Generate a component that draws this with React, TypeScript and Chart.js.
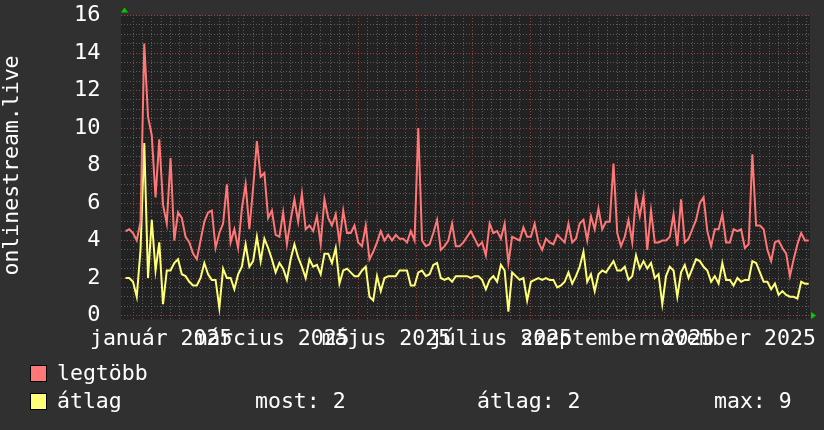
import React, { useEffect, useRef } from 'react';
import { Chart, registerables } from 'chart.js';

Chart.register(...registerables);

// ---- data (x = days since 1 Jan 2025) ----
const START_DAY = -4;
const DAY_STEP = 2;
const X_MIN = -4.8;
const X_MAX = 360.7;

const MAX_VALUES = [
  4.5, 4.6, 4.4, 4.0, 5.0, 14.5, 10.6, 9.6, 6.3, 9.4,
  5.9, 4.9, 8.4, 4.0, 5.5, 5.2, 4.2, 3.9, 3.3, 3.0,
  4.0, 5.0, 5.5, 5.6, 3.6, 4.4, 4.9, 7.0, 3.9, 4.6,
  3.6, 5.7, 7.0, 4.6, 6.8, 9.3, 7.4, 7.6, 5.2, 5.6,
  4.3, 4.2, 5.5, 3.8, 5.1, 6.2, 5.0, 6.5, 4.6, 4.8,
  4.5, 5.3, 3.8, 6.2, 5.2, 4.8, 5.4, 3.9, 5.6, 4.4,
  4.4, 4.8, 3.9, 3.7, 4.8, 3.0, 3.4, 3.9, 4.5, 4.0,
  4.3, 4.0, 4.3, 4.1, 4.1, 3.9, 4.5, 4.0, 10.0, 4.0,
  3.7, 3.8, 4.4, 5.1, 3.5, 3.7, 4.0, 4.9, 3.7, 3.7,
  3.9, 4.2, 4.5, 4.1, 3.7, 3.9, 3.2, 4.9, 4.4, 4.5,
  4.1, 4.9, 2.8, 4.2, 4.1, 4.0, 4.7, 4.2, 4.2, 4.9,
  3.9, 3.5, 4.1, 3.9, 3.8, 4.3, 4.1, 3.9, 4.9, 3.9,
  4.1, 4.9, 5.1, 4.0, 5.3, 4.6, 5.7, 4.6, 5.0, 5.0,
  8.1, 4.4, 3.7, 4.2, 5.1, 3.9, 6.4, 5.3, 6.4, 3.5,
  5.6, 3.9, 3.9, 4.0, 4.0, 4.2, 5.4, 3.7, 6.2, 3.9,
  4.1, 4.6, 5.1, 6.0, 6.3, 4.5, 3.7, 4.6, 4.6, 5.4,
  3.9, 3.9, 4.6, 4.5, 4.6, 3.6, 3.8, 8.6, 4.8, 4.8,
  4.6, 3.5, 2.9, 3.9, 4.0, 3.6, 3.3, 2.1, 3.0, 3.8,
  4.4, 4.0, 4.0,
];

const AVG_VALUES = [
  2.0, 2.0, 1.8, 1.0, 3.5, 9.2, 2.0, 5.1, 2.4, 3.9,
  0.6, 2.4, 2.4, 2.8, 3.0, 2.2, 2.1, 1.8, 1.6, 1.6,
  2.0, 2.8, 2.2, 1.9, 1.9, 0.4, 2.5, 2.0, 2.0, 1.4,
  2.2, 2.6, 3.8, 2.6, 2.9, 4.2, 2.9, 4.1, 3.6, 3.0,
  2.3, 2.8, 2.5, 1.9, 3.0, 3.8, 3.1, 2.6, 2.0, 3.0,
  2.6, 2.7, 2.2, 3.3, 3.3, 2.8, 3.6, 1.7, 2.4, 2.5,
  2.3, 2.1, 2.1, 2.4, 2.6, 1.0, 0.8, 2.1, 1.3, 2.0,
  2.1, 2.1, 2.1, 2.4, 2.4, 2.4, 1.6, 1.6, 2.3, 2.4,
  2.1, 2.2, 2.7, 2.8, 2.0, 1.9, 2.0, 1.8, 2.1, 2.1,
  2.1, 2.1, 2.0, 2.1, 2.1, 1.9, 1.4, 1.9, 2.1, 1.8,
  2.7, 2.4, 0.2, 2.3, 2.1, 1.9, 2.0, 0.8, 1.8, 1.9,
  2.0, 1.9, 2.0, 1.9, 1.9, 1.5, 1.6, 1.8, 2.3, 1.7,
  2.1, 2.6, 3.4, 1.8, 2.2, 1.3, 2.2, 2.4, 2.3, 2.6,
  2.9, 2.4, 2.4, 2.6, 1.9, 2.1, 3.2, 2.5, 2.9, 2.5,
  2.8, 2.0, 2.2, 0.6, 2.1, 2.6, 2.4, 1.0, 2.3, 2.7,
  2.0, 2.5, 3.0, 2.9, 2.6, 2.4, 1.8, 2.1, 1.7, 2.8,
  1.9, 1.9, 1.6, 2.0, 1.8, 1.9, 1.9, 2.9, 2.8, 2.3,
  1.8, 1.8, 1.4, 1.7, 1.1, 1.3, 1.1, 1.0, 1.0, 0.9,
  1.8, 1.7, 1.7,
];

const SERIES_NAMES = ['legtöbb', 'átlag'];
const STATS_TEXT = ['most: 2', 'átlag: 2', 'max: 9'];
const Y_AXIS_TITLE = 'onlinestream.live';

// month start days in 2025 (days since 1 Jan)
const MONTH_STARTS = [0, 31, 59, 90, 120, 151, 181, 212, 243, 273, 304, 334];
const MINOR_DAY_OFFSETS = [5, 10, 15, 20, 25];
const X_LABEL_MONTH_INDEX = [0, 2, 4, 6, 8, 10];
const X_LABELS = ['január 2025', 'március 2025', 'május 2025', 'július 2025', 'szeptember 2025', 'november 2025'];
const X_LABEL_OFFSET_DAYS = 15;

const Y_MIN = 0;
const Y_MAX = 16;
const Y_LABEL_STEP = 2;
const Y_MINOR_STEP = 0.5;

// ---- styles ----
const FONT = 'DejaVu Sans Mono';
const FONT_SIZE = 21.5;
const RED = '#ff7777';
const YELLOW = '#ffff77';
const OUTER_BG = '#303030';
const PLOT_BG = '#222222';
const MINOR_GRID = '#5c5c5c';
const MAJOR_GRID = '#9a3e3e';
const TEXT = '#ffffff';
const DOT_STEP = 3;

const xLabelValues = X_LABEL_MONTH_INDEX.map((m) => MONTH_STARTS[m] + X_LABEL_OFFSET_DAYS);
const yLabelValues: number[] = [];
for (let v = Y_MIN; v <= Y_MAX; v += Y_LABEL_STEP) yLabelValues.push(v);

const toPoints = (vals: number[]) => vals.map((v, i) => ({ x: START_DAY + i * DAY_STEP, y: v }));

const rrdPlugin = {
  id: 'rrdDecor',
  beforeDraw(chart: any) {
    const { ctx, chartArea } = chart;
    ctx.save();
    ctx.fillStyle = OUTER_BG;
    ctx.fillRect(0, 0, chart.width, chart.height);
    ctx.fillStyle = PLOT_BG;
    ctx.fillRect(chartArea.left - 3, chartArea.top, chartArea.right - chartArea.left + 3, chartArea.bottom - chartArea.top + 4);
    ctx.restore();
  },
  beforeDatasetsDraw(chart: any) {
    const { ctx, chartArea, scales } = chart;
    const xs = scales.x;
    const ys = scales.y;
    ctx.save();
    const left = Math.floor(chartArea.left) - 3;
    const right = Math.floor(chartArea.right);
    const top = Math.floor(chartArea.top);
    const bottom = Math.floor(chartArea.bottom) + 3;
    const hLine = (v: number, color: string) => {
      const y = Math.floor(ys.getPixelForValue(v));
      ctx.fillStyle = color;
      for (let x = left; x <= right; x += DOT_STEP) ctx.fillRect(x, y, 1, 1);
    };
    const vLine = (d: number, color: string) => {
      if (d < X_MIN || d > X_MAX) return;
      const x = Math.floor(xs.getPixelForValue(d));
      ctx.fillStyle = color;
      for (let y = top; y <= bottom; y += DOT_STEP) ctx.fillRect(x, y, 1, 1);
    };
    for (let v = Y_MIN; v <= Y_MAX + 1e-9; v += Y_MINOR_STEP) {
      const major = Math.abs(v / Y_LABEL_STEP - Math.round(v / Y_LABEL_STEP)) < 1e-9;
      if (!major) hLine(v, MINOR_GRID);
    }
    MONTH_STARTS.forEach((m) => MINOR_DAY_OFFSETS.forEach((o) => vLine(m + o, MINOR_GRID)));
    yLabelValues.forEach((v) => hLine(v, MAJOR_GRID));
    MONTH_STARTS.forEach((m) => vLine(m, MAJOR_GRID));
    ctx.restore();
  },
  afterDraw(chart: any) {
    const { ctx, chartArea } = chart;
    ctx.save();
    // arrows
    ctx.fillStyle = '#00cc00';
    const ax = Math.floor(chartArea.left) + 0.5;
    const top = chartArea.top;
    ctx.beginPath();
    ctx.moveTo(ax - 3.5, top - 3);
    ctx.lineTo(ax + 3.5, top - 3);
    ctx.lineTo(ax, top - 8);
    ctx.closePath();
    ctx.fill();
    const by = Math.floor(chartArea.bottom) + 0.5;
    const rx = chartArea.right;
    ctx.beginPath();
    ctx.moveTo(rx + 1, by - 3.5);
    ctx.lineTo(rx + 1, by + 3.5);
    ctx.lineTo(rx + 6, by);
    ctx.closePath();
    ctx.fill();

    // legend
    ctx.font = `${FONT_SIZE}px "${FONT}"`;
    ctx.textBaseline = 'middle';
    ctx.textAlign = 'left';
    const rows = [374, 402];
    const colors = [RED, YELLOW];
    SERIES_NAMES.forEach((name, i) => {
      const cy = rows[i];
      ctx.fillStyle = colors[i];
      ctx.fillRect(31, cy - 8, 15, 15);
      ctx.strokeStyle = '#000000';
      ctx.lineWidth = 1;
      ctx.strokeRect(30.5, cy - 8.5, 16, 16);
      ctx.fillStyle = TEXT;
      ctx.fillText(name, 57, cy);
    });
    const statX = [255, 477, 714];
    STATS_TEXT.forEach((t, i) => {
      ctx.fillStyle = TEXT;
      ctx.fillText(t, statX[i], rows[1]);
    });
    ctx.restore();
  },
};

const zeroPadding = (s: any) => {
  s.paddingTop = 0;
  s.paddingBottom = 0;
  s.paddingLeft = 0;
  s.paddingRight = 0;
};

export default function App() {
  const canvasRef = useRef<HTMLCanvasElement | null>(null);

  useEffect(() => {
    document.body.style.margin = '0';
    const canvas = canvasRef.current;
    if (!canvas) return;
    const chart = new Chart(canvas, {
      type: 'line',
      data: {
        datasets: [
          {
            label: SERIES_NAMES[0],
            data: toPoints(MAX_VALUES),
            borderColor: RED,
            borderWidth: 2,
            pointRadius: 0,
            tension: 0,
            fill: false,
          },
          {
            label: SERIES_NAMES[1],
            data: toPoints(AVG_VALUES),
            borderColor: YELLOW,
            borderWidth: 2,
            pointRadius: 0,
            tension: 0,
            fill: false,
          },
        ],
      },
      options: {
        animation: false,
        responsive: false,
        devicePixelRatio: 1,
        layout: { padding: { top: 15.5, right: 14, left: 0, bottom: 0 } },
        plugins: { legend: { display: false }, tooltip: { enabled: false } },
        scales: {
          x: {
            type: 'linear',
            min: X_MIN,
            max: X_MAX,
            grid: { display: false },
            border: { display: false },
            afterBuildTicks: (s: any) => {
              s.ticks = xLabelValues.map((v) => ({ value: v }));
            },
            afterFit: (s: any) => {
              s.height = 114.5;
              zeroPadding(s);
            },
            ticks: {
              autoSkip: false,
              maxRotation: 0,
              minRotation: 0,
              padding: 3,
              color: TEXT,
              font: { family: FONT, size: FONT_SIZE },
              callback: (v: any) => {
                const i = xLabelValues.indexOf(Number(v));
                return i >= 0 ? X_LABELS[i] : '';
              },
            },
          },
          y: {
            type: 'linear',
            min: Y_MIN,
            max: Y_MAX,
            grid: { display: false },
            border: { display: false },
            afterBuildTicks: (s: any) => {
              s.ticks = yLabelValues.map((v) => ({ value: v }));
            },
            afterFit: (s: any) => {
              s.width = 124;
              zeroPadding(s);
            },
            ticks: {
              padding: 15.5,
              color: TEXT,
              font: { family: FONT, size: 22 },
              callback: (v: any) => String(v),
            },
            title: {
              display: true,
              text: Y_AXIS_TITLE,
              color: TEXT,
              font: { family: FONT, size: FONT_SIZE },
              padding: { top: 0, bottom: 0 },
            },
          },
        },
      },
      plugins: [rrdPlugin],
    } as any);
    return () => chart.destroy();
  }, []);

  return (
    <div style={{ position: 'fixed', left: 0, top: 0, width: 824, height: 430, background: OUTER_BG }}>
      <canvas ref={canvasRef} width={824} height={430} />
    </div>
  );
}
